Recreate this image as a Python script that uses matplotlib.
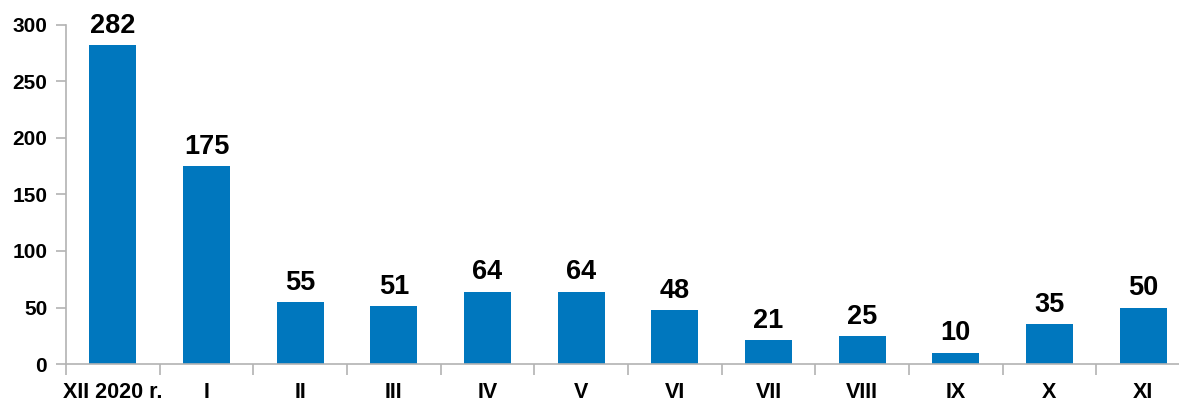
import matplotlib
matplotlib.use("Agg")
import matplotlib.pyplot as plt
from matplotlib.ticker import FixedLocator, NullFormatter

categories = ["XII 2020 r.", "I", "II", "III", "IV", "V", "VI", "VII", "VIII", "IX", "X", "XI"]
values = [282, 175, 55, 51, 64, 64, 48, 21, 25, 10, 35, 50]
yticks = [0, 50, 100, 150, 200, 250, 300]

plt.rcParams['font.family'] = ['Liberation Sans', 'DejaVu Sans']
plt.rcParams['font.weight'] = 'bold'

fig = plt.figure(figsize=(11.79, 4.03), dpi=100)
ax = fig.add_axes([66/1179, 1 - 364/403, (1190 - 66)/1179, (364 - 25)/403])

x = list(range(len(categories)))
bars = ax.bar(x, values, width=0.5, color='#0077BE', zorder=2)
for xi, v in zip(x, values):
    ax.annotate(str(v), (xi, v), xytext=(0, 4.5), textcoords='offset points',
                ha='center', va='bottom', fontsize=19.5, fontweight='bold')

ax.set_xlim(-0.5, len(categories) - 0.5)
ax.set_ylim(0, 300)
ax.set_yticks(yticks)
ax.set_yticklabels([str(t) for t in yticks], fontsize=15, fontweight='bold')
ax.set_xticks(x)
ax.set_xticklabels(categories, fontsize=15.5, fontweight='bold')
ax.xaxis.set_minor_locator(FixedLocator([i - 0.5 for i in range(len(categories) + 1)]))
ax.xaxis.set_minor_formatter(NullFormatter())

gray = '#b3b3b3'
for s in ['top', 'right']:
    ax.spines[s].set_visible(False)
for s in ['left', 'bottom']:
    ax.spines[s].set_color(gray)
    ax.spines[s].set_linewidth(1.2)
ax.tick_params(axis='y', length=7.5, width=1.2, color=gray, pad=6)
ax.tick_params(axis='x', which='major', length=0, pad=13)
ax.tick_params(axis='x', which='minor', length=8, width=1.2, color=gray)

fig.savefig("out.png", dpi=100)
